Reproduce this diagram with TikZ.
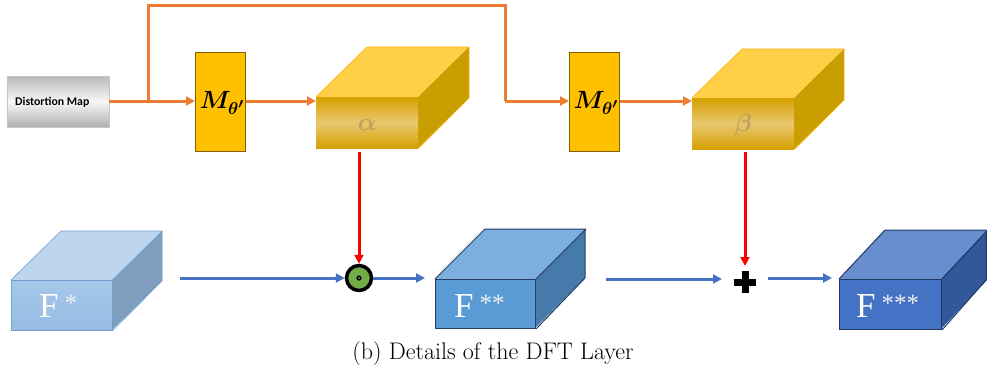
\documentclass[tikz,border=0pt]{standalone}
\usepackage{fontspec}
\usepackage{amsmath,bm}
\usetikzlibrary{arrows.meta,calc}
\newfontfamily\calib{Carlito}
\newfontfamily\tnr{Liberation Serif}
\definecolor{orng}{HTML}{ED7D31}
\definecolor{gold}{HTML}{FFC000}
\definecolor{goldb}{HTML}{7F6000}
\definecolor{bluea}{HTML}{4472C4}
\definecolor{grn}{HTML}{70AD47}
\tikzset{
  oline/.style={draw=orng,line width=3pt},
  oarrow/.style={oline,-{Triangle[length=9pt,width=9pt]}},
  barrow/.style={draw=bluea,line width=3pt,-{Triangle[length=9pt,width=9pt]}},
  rarrow/.style={draw=red,line width=3pt,-{Triangle[length=9pt,width=9pt]}},
  mbox/.style={draw=goldb,line width=1pt,fill=gold,minimum width=50pt,minimum height=99pt,inner sep=0pt},
  front/.style={anchor=north west,minimum width=#1,inner sep=0pt},
  flabel/.style={text=white,font=\tnr\fontsize{35}{37}\selectfont,anchor=base west,inner sep=0pt},
  mlabel/.style={font=\fontsize{27}{29}\selectfont},
  glabel/.style={text={rgb,255:red,190;green,160;blue,96},font=\fontsize{28}{30}\selectfont},
}
\newcommand{\Fsup}[1]{F\hspace{6pt}\raisebox{6pt}{\fontsize{25}{25}\selectfont\color{white!88!gray}#1}}
\begin{document}
\begin{tikzpicture}[x=1pt,y=-1pt]
\useasboundingbox (0,0) rectangle (987,373);
% Distortion map
\shade[top color=gray!55,bottom color=gray!62,middle color=gray!6] (7,76) rectangle (109,127);
\node[minimum width=102pt,minimum height=51pt,inner sep=0pt,anchor=north west,draw=gray!45,line width=0.4pt] (dm) at (7,76) {};
\node[font=\calib\bfseries\fontsize{11.8}{14}\selectfont,anchor=west,inner sep=0pt] (dmt) at (15,102) {Distortion Map};
% M boxes
\node[mbox,anchor=north west] (m1) at (195,52) {};
\node[mlabel] (m1t) at (222,103) {$\bm{M_{\theta'}}$};
\node[mbox,anchor=north west] (m2) at (569,52) {};
\node[mlabel] (m2t) at (596,103) {$\bm{M_{\theta'}}$};
% alpha cube
\fill[color={rgb,255:red,255;green,207;blue,72}] (316,97) -- ++(51,-50) -- ++(102,0) -- (418,97) -- cycle;
\fill[color={rgb,255:red,200;green,158;blue,0}] (418,97) -- ++(51,-50) -- ++(0,51) -- (418,148) -- cycle;
\node[front=102pt,minimum height=51pt,top color={rgb,255:red,214;green,160;blue,0},bottom color={rgb,255:red,214;green,160;blue,0},middle color={rgb,255:red,232;green,200;blue,112}] (ca) at (316,97) {};
\draw[color=gold!70!orange,line width=0.6pt] (ca.north west) -- ++(51,-50) -- ++(102,0) -- ++(0,51) -- (ca.south east);
\node[glabel] (cat) at ($(ca.center)+(0,2)$) {$\bm{\alpha}$};
% beta cube
\fill[color={rgb,255:red,255;green,207;blue,72}] (692,98) -- ++(50,-49) -- ++(102,0) -- (794,98) -- cycle;
\fill[color={rgb,255:red,200;green,158;blue,0}] (794,98) -- ++(50,-49) -- ++(0,51) -- (794,149) -- cycle;
\node[front=102pt,minimum height=51pt,top color={rgb,255:red,214;green,160;blue,0},bottom color={rgb,255:red,214;green,160;blue,0},middle color={rgb,255:red,232;green,200;blue,112}] (cb) at (692,98) {};
\draw[color=gold!70!orange,line width=0.6pt] (cb.north west) -- ++(50,-49) -- ++(102,0) -- ++(0,51) -- (cb.south east);
\node[glabel] (cbt) at ($(cb.center)+(0,2)$) {$\bm{\beta}$};
% orange connectors
\coordinate (br) at (148,101);
\draw[oline] (dm.east |- br) -- (br);
\draw[oarrow] (br) -- (m1.west |- br);
\draw[oline] (br) -- (148,5) -- (505,5) -- (505,101);
\draw[oarrow] (505,101) -- (m2.west |- 0,101);
\draw[oarrow] (m1.east |- 0,101) -- (ca.west |- 0,101);
\draw[oarrow] (m2.east |- 0,101) -- (cb.west |- 0,101);
% F* cube
\fill[color={rgb,255:red,189;green,214;blue,238}] (11,280) -- ++(50,-49) -- ++(101,0) -- (112,280) -- cycle;
\fill[color={rgb,255:red,128;green,158;blue,190}] (112,280) -- ++(50,-49) -- ++(0,50) -- (112,330) -- cycle;
\node[front=101pt,minimum height=50pt,top color={rgb,255:red,166;green,199;blue,232},bottom color={rgb,255:red,150;green,188;blue,228},draw={rgb,255:red,110;green,160;blue,210},line width=0.6pt] (f1) at (11,280) {};
\draw[color={rgb,255:red,110;green,160;blue,210},line width=0.6pt] (f1.north west) -- ++(50,-49) -- ++(101,0) -- ++(0,50) -- (f1.south east) (f1.north east) -- ++(50,-49);
\node[flabel] (f1t) at (39,317) {\Fsup{*}};
% F** cube
\fill[color={rgb,255:red,125;green,175;blue,222}] (435,279) -- ++(50,-50) -- ++(100,0) -- (535,279) -- cycle;
\fill[color={rgb,255:red,70;green,122;blue,171}] (535,279) -- ++(50,-50) -- ++(0,49) -- (535,328) -- cycle;
\node[front=100pt,minimum height=49pt,fill={rgb,255:red,91;green,155;blue,213},draw={rgb,255:red,38;green,64;blue,100},line width=1pt] (f2) at (435,279) {};
\draw[color={rgb,255:red,38;green,64;blue,100},line width=1pt,line join=round] (f2.north west) -- ++(50,-50) -- ++(100,0) -- ++(0,49) -- (f2.south east) (f2.north east) -- ++(50,-50);
\node[flabel] (f2t) at (454,317) {\Fsup{**}};
% F*** cube
\fill[color={rgb,255:red,105;green,142;blue,208}] (839,279) -- ++(46,-49) -- ++(102,0) -- (941,279) -- cycle;
\fill[color={rgb,255:red,50;green,88;blue,155}] (941,279) -- ++(46,-49) -- ++(0,50) -- (941,329) -- cycle;
\node[front=102pt,minimum height=50pt,fill={rgb,255:red,68;green,114;blue,196},draw={rgb,255:red,31;green,56;blue,100},line width=1pt] (f3) at (839,279) {};
\draw[color={rgb,255:red,31;green,56;blue,100},line width=1pt,line join=round] (f3.north west) -- ++(46,-49) -- ++(101,0) -- ++(0,50) -- (f3.south east) (f3.north east) -- ++(46,-49);
\node[flabel] (f3t) at (856,317) {\Fsup{***}};
% operators
\node[circle,draw=black,line width=3.5pt,fill=grn,minimum size=25pt,inner sep=0pt] (mul) at (359,278) {};
\fill[black] (mul.center) circle (2.6pt);
\fill[gray!60] (mul.center) circle (0.8pt);
\coordinate (add) at (745,282);
\fill[black] ($(add)+(-11,-3.5)$) rectangle ($(add)+(11,3.5)$);
\fill[black] ($(add)+(-3.5,-11)$) rectangle ($(add)+(3.5,11)$);
\coordinate (addw) at (722,279);
\coordinate (adde) at (768,278);
% red arrows
\draw[rarrow] (ca.south -| mul.north) ++(0,4) -- (mul.north);
\draw[rarrow] (745,152) -- (745,266);
% blue arrows
\draw[barrow] (180,278) -- (mul.west);
\draw[barrow] (mul.east) -- (425,278);
\draw[barrow] (606,279) -- (addw);
\draw[barrow] (adde) -- (832,278);
% caption
\node[font=\fontsize{24}{26}\selectfont] (cap) at (493,354) {(b) Details of the DFT Layer};
\end{tikzpicture}
\end{document}
